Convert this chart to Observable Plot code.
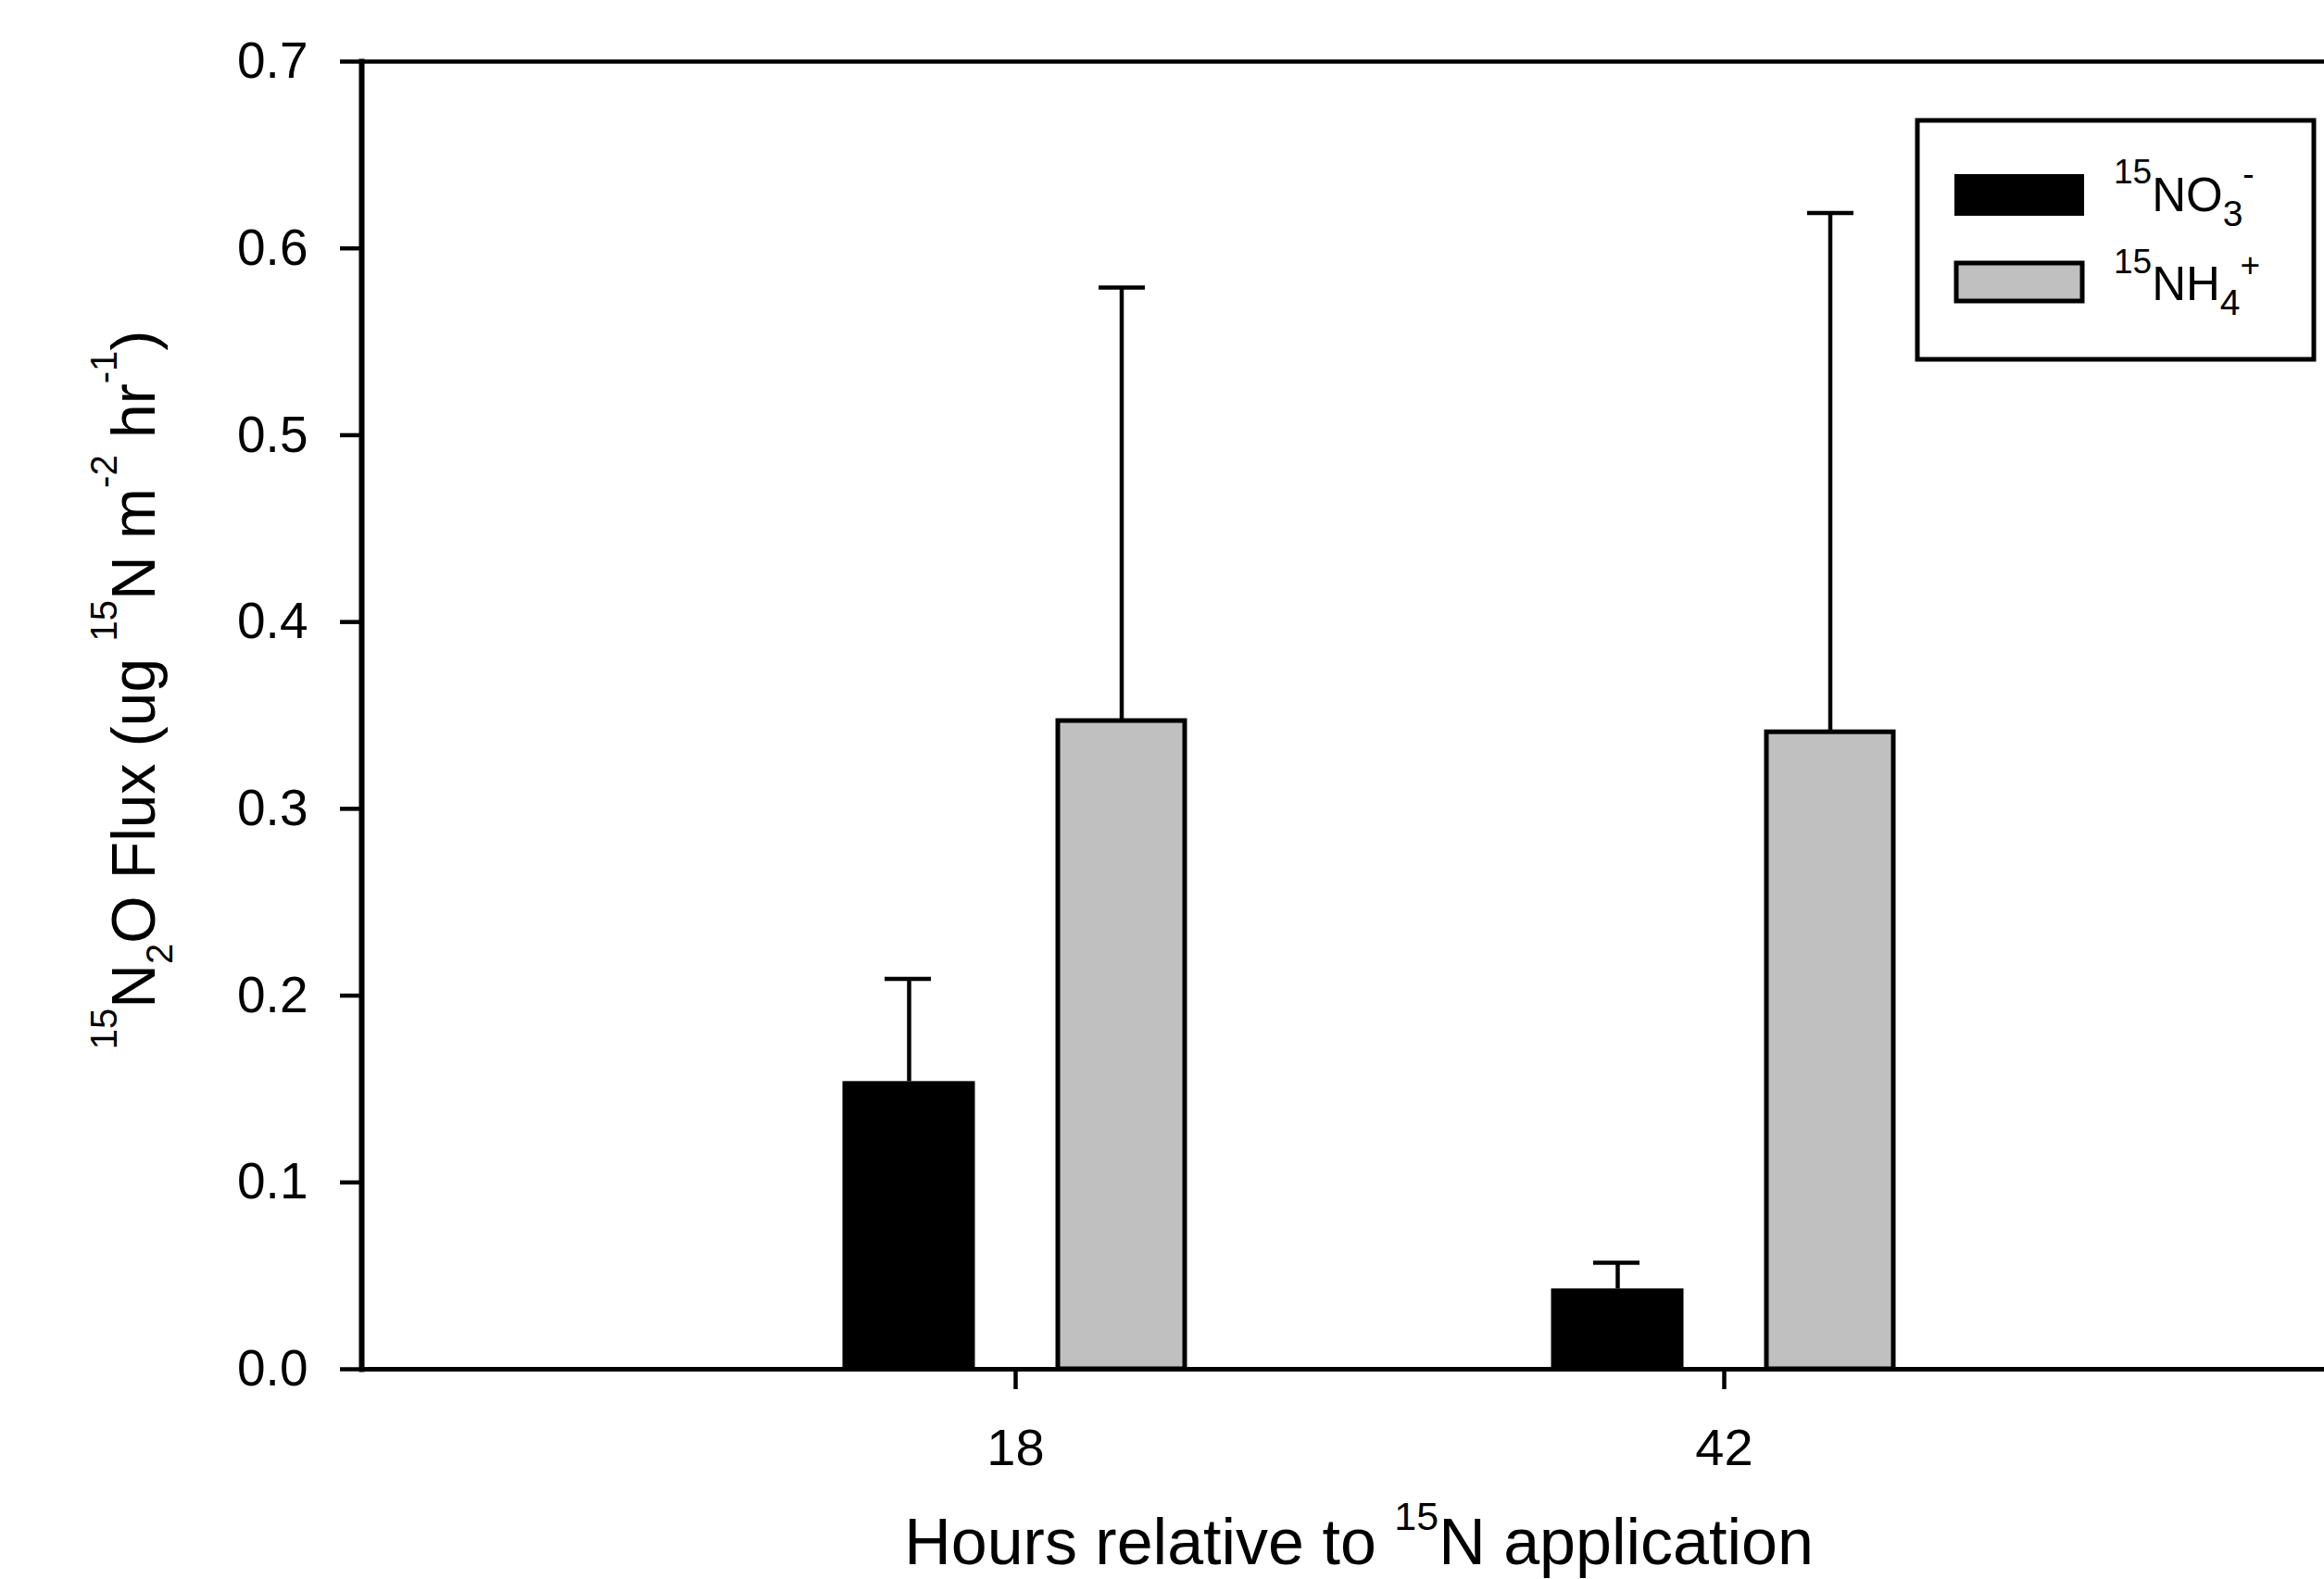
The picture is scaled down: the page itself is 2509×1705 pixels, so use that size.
<!DOCTYPE html>
<html>
<head>
<meta charset="utf-8">
<script src="https://cdn.jsdelivr.net/npm/d3@7"></script>
<script src="https://cdn.jsdelivr.net/npm/@observablehq/plot@0.6"></script>
<style>
  html, body { margin: 0; padding: 0; background: #fff; overflow: hidden; }
  #chart svg { display: block; }
</style>
</head>
<body>
<div id="chart"></div>
<script>
// ---- data ----
const hours = [18, 42];
const seriesKeys = ["NO3", "NH4"];
const seriesFill = ["#000000", "#c0c0c0"];
const no3Values = [0.154, 0.043];
const no3Errors = [0.055, 0.014];
const nh4Values = [0.347, 0.341];
const nh4Errors = [0.232, 0.278];
const yTicks = [0, 0.1, 0.2, 0.3, 0.4, 0.5, 0.6, 0.7];

const no3 = hours.map((h, i) => ({hour: h, value: no3Values[i], top: no3Values[i] + no3Errors[i]}));
const nh4 = hours.map((h, i) => ({hour: h, value: nh4Values[i], top: nh4Values[i] + nh4Errors[i]}));

const W = 2509, H = 1705;
const FONT = "'Liberation Sans', Arial, Helvetica, sans-serif";

const svg = Plot.plot({
  width: W,
  height: H,
  marginLeft: 390,
  marginTop: 66,
  marginBottom: 227,
  marginRight: 0,
  style: {fontFamily: FONT, color: "black", background: "white"},
  x: {type: "band", domain: hours, range: [713.5, 2243.5], padding: 0, round: false},
  y: {domain: [0, 0.7]},
  marks: [
    Plot.barY(no3, {x: "hour", y: "value", fill: seriesFill[0], insetLeft: 196, insetRight: 426}),
    Plot.barY(nh4, {x: "hour", y: "value", fill: seriesFill[1], stroke: "black", strokeWidth: 5, insetLeft: 428.5, insetRight: 199.5}),
    Plot.ruleX(no3, {x: "hour", y1: "value", y2: "top", dx: -115, stroke: "black", strokeWidth: 4.5}),
    Plot.ruleX(nh4, {x: "hour", y1: "value", y2: "top", dx: 114.5, stroke: "black", strokeWidth: 4.5}),
    Plot.tickY(no3, {x: "hour", y: "top", insetLeft: 241.5, insetRight: 473.5, stroke: "black", strokeWidth: 4.5}),
    Plot.tickY(nh4, {x: "hour", y: "top", insetLeft: 472.5, insetRight: 242.5, stroke: "black", strokeWidth: 4.5}),
    Plot.ruleY([0], {stroke: "black", strokeWidth: 5}),
    Plot.ruleY([0.7], {stroke: "black", strokeWidth: 4.5}),
    Plot.frame({anchor: "left", stroke: "black", strokeWidth: 6}),
    Plot.axisY({ticks: yTicks, tickFormat: d3.format(".1f"), tickSize: 23, tickPadding: 35, fontSize: 55, strokeWidth: 4.5, label: null}),
    Plot.axisX({tickSize: 22, tickPadding: 42, fontSize: 56, strokeWidth: 4.5, label: null})
  ]
});

document.getElementById("chart").appendChild(svg);

const root = d3.select(svg);

// helper for rich text with super/subscripts
function rich(textSel, parts) {
  parts.forEach(p => {
    const t = textSel.append("tspan").text(p.t);
    if (p.size) t.attr("font-size", p.size);
    if (p.shift) t.attr("baseline-shift", p.shift + "px");
  });
}

// x-axis title
const xt = root.append("text")
  .attr("x", 1467).attr("y", 1689)
  .attr("text-anchor", "middle")
  .attr("font-family", FONT).attr("font-size", 70).attr("fill", "black");
rich(xt, [
  {t: "Hours relative to "},
  {t: "15", size: 43, shift: 37},
  {t: "N application"}
]);

// y-axis title
const yt = root.append("text")
  .attr("transform", "translate(167,745) rotate(-90)")
  .attr("text-anchor", "middle")
  .attr("font-family", FONT).attr("font-size", 66).attr("fill", "black");
rich(yt, [
  {t: "15", size: 40, shift: 41},
  {t: "N"},
  {t: "2", size: 40, shift: -19},
  {t: "O Flux (ug "},
  {t: "15", size: 40, shift: 41},
  {t: "N m"},
  {t: "-2", size: 40, shift: 41},
  {t: " hr"},
  {t: "-1", size: 40, shift: 41},
  {t: ")"}
]);

// legend
const lg = root.append("g");
lg.append("rect").attr("x", 2070).attr("y", 130).attr("width", 428).attr("height", 258)
  .attr("fill", "white").attr("stroke", "black").attr("stroke-width", 5);
const legendLabels = [
  [{t: "15", size: 37, shift: 30}, {t: "NO"}, {t: "3", size: 39, shift: -16}, {t: "-", size: 37, shift: 28}],
  [{t: "15", size: 37, shift: 29}, {t: "NH"}, {t: "4", size: 39, shift: -16}, {t: "+", size: 37, shift: 25}]
];
const swY = [188, 284];
seriesKeys.forEach((k, i) => {
  if (i === 0) {
    lg.append("rect").attr("x", 2110).attr("y", swY[i]).attr("width", 140).attr("height", 45)
      .attr("fill", seriesFill[i]);
  } else {
    lg.append("rect").attr("x", 2112).attr("y", swY[i]).attr("width", 136).attr("height", 41)
      .attr("fill", seriesFill[i]).attr("stroke", "black").attr("stroke-width", 5);
  }
  const t = lg.append("text").attr("x", 2282).attr("y", swY[i] + 40)
    .attr("text-anchor", "start")
    .attr("font-family", FONT).attr("font-size", 51).attr("fill", "black");
  rich(t, legendLabels[i]);
});
</script>
</body>
</html>
